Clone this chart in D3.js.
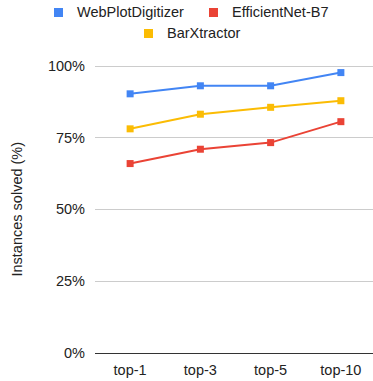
<!DOCTYPE html>
<html>
<head>
<meta charset="utf-8">
<script src="https://cdn.jsdelivr.net/npm/d3@7"></script>
<style>
  html, body { margin: 0; padding: 0; background: #fff; }
  svg { display: block; }
  svg text { font-family: "Liberation Sans", Arial, sans-serif; }
</style>
</head>
<body>
<svg id="chart" width="373" height="381"></svg>
<script>
// Categories and series values (percent of instances solved)
const categories = ["top-1", "top-3", "top-5", "top-10"];
const webPlotDigitizer = [90.2, 93.0, 93.0, 97.6];
const barXtractor = [78.0, 83.1, 85.5, 87.8];
const efficientNet = [65.9, 70.9, 73.2, 80.5];
const yTicks = [0, 25, 50, 75, 100];

const series = [
  { name: "WebPlotDigitizer", values: webPlotDigitizer, color: "#4285F4" },
  { name: "EfficientNet-B7", values: efficientNet, color: "#EA4335" },
  { name: "BarXtractor", values: barXtractor, color: "#FBBC04" }
];

const svg = d3.select("#chart");
const plotLeft = 95, plotRight = 376, plotTop = 65.7, plotBottom = 352.7;
const fontSize = 14.5;
const textColor = "#222222";

const x = d3.scaleBand().domain(categories).range([plotLeft, plotRight]);
const y = d3.scaleLinear().domain([0, 100]).range([plotBottom, plotTop]);

// Horizontal gridlines
svg.append("g")
  .selectAll("line")
  .data(yTicks.filter(t => t > 0))
  .join("line")
  .attr("x1", plotLeft).attr("x2", 373)
  .attr("y1", d => Math.round(y(d)) + 0.5).attr("y2", d => Math.round(y(d)) + 0.5)
  .attr("stroke", "#cccccc").attr("stroke-width", 1);

// Baseline at 0%
svg.append("line")
  .attr("x1", plotLeft).attr("x2", 373)
  .attr("y1", Math.round(y(0)) + 0.5).attr("y2", Math.round(y(0)) + 0.5)
  .attr("stroke", "#333333").attr("stroke-width", 1);

// Y tick labels
svg.append("g")
  .selectAll("text")
  .data(yTicks)
  .join("text")
  .attr("x", 85).attr("y", d => y(d))
  .attr("dy", "0.35em")
  .attr("text-anchor", "end")
  .attr("font-size", fontSize).attr("fill", textColor)
  .text(d => d + "%");

// X tick labels
svg.append("g")
  .selectAll("text")
  .data(categories)
  .join("text")
  .attr("x", d => x(d) + x.bandwidth() / 2)
  .attr("y", 375)
  .attr("text-anchor", "middle")
  .attr("font-size", fontSize).attr("fill", textColor)
  .text(d => d);

// Y axis title
svg.append("text")
  .attr("transform", `translate(17,${(plotTop + plotBottom) / 2}) rotate(-90)`)
  .attr("dy", "0.35em")
  .attr("text-anchor", "middle")
  .attr("font-size", fontSize).attr("fill", textColor)
  .text("Instances solved (%)");

// Lines and square markers
const line = d3.line()
  .x((d, i) => x(categories[i]) + x.bandwidth() / 2)
  .y(d => y(d));

series.forEach(s => {
  const g = svg.append("g");
  g.append("path")
    .attr("d", line(s.values))
    .attr("fill", "none")
    .attr("stroke", s.color)
    .attr("stroke-width", 2);
  g.selectAll("rect")
    .data(s.values)
    .join("rect")
    .attr("x", (d, i) => x(categories[i]) + x.bandwidth() / 2 - 3.5)
    .attr("y", d => y(d) - 3.5)
    .attr("width", 7).attr("height", 7)
    .attr("fill", s.color);
});

// Legend
const legendItems = [
  { s: series[0], x: 54, y: 17.3 },
  { s: series[1], x: 209, y: 17.3 },
  { s: series[2], x: 144, y: 38.3 }
];
const lg = svg.append("g");
legendItems.forEach(it => {
  lg.append("rect")
    .attr("x", it.x).attr("y", it.y - 9.3)
    .attr("width", 9).attr("height", 9)
    .attr("fill", it.s.color);
  lg.append("text")
    .attr("x", it.x + 23).attr("y", it.y)
    .attr("font-size", fontSize).attr("fill", textColor)
    .text(it.s.name);
});
</script>
</body>
</html>
